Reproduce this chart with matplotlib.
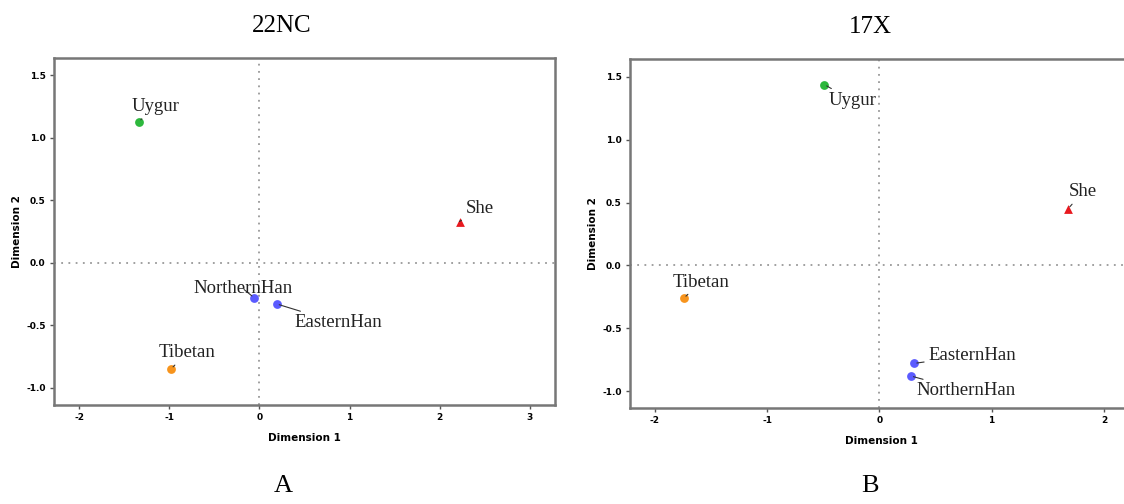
import matplotlib
matplotlib.use("Agg")
import matplotlib.pyplot as plt

# panel A (22NC)
groups_a = ["Uygur", "NorthernHan", "EasternHan", "Tibetan", "She"]
dim1_a = [-1.34, -0.06, 0.19, -0.98, 2.22]
dim2_a = [1.13, -0.28, -0.33, -0.85, 0.33]

# panel B (17X)
groups_b = ["Uygur", "Tibetan", "She", "EasternHan", "NorthernHan"]
dim1_b = [-0.49, -1.74, 1.68, 0.31, 0.28]
dim2_b = [1.44, -0.26, 0.45, -0.78, -0.88]

xticks_a = [-2, -1, 0, 1, 2, 3]
xticks_b = [-2, -1, 0, 1, 2]
yticks = [-1.0, -0.5, 0.0, 0.5, 1.0, 1.5]

colors = {"Uygur": "#2db83d", "NorthernHan": "#5b5bff", "EasternHan": "#5b5bff",
          "Tibetan": "#f7941d", "She": "#e8191f"}
# label offsets in pixels (text centre relative to the point)
offs_a = {"Uygur": (17, 15), "NorthernHan": (-11, 9), "EasternHan": (62, -19),
          "Tibetan": (16, 16), "She": (20, 13)}
offs_b = {"Uygur": (28, -16), "Tibetan": (17, 16), "She": (15, 17),
          "EasternHan": (58, 8), "NorthernHan": (55, -15)}

fig = plt.figure(figsize=(11.24, 5.04), dpi=100)
ax1 = fig.add_axes([0.048, 0.1964, 0.4458, 0.6885])
ax2 = fig.add_axes([0.5605, 0.1905, 0.4466, 0.6924])


def draw(ax, names, xs, ys, offs, xlim, ylim, xticks, title, title_x):
    ax.axhline(0, color="#999999", ls=(0, (1, 3)), lw=1.3, zorder=1)
    ax.axvline(0, color="#999999", ls=(0, (1, 3)), lw=1.3, zorder=1)
    for n, x, y in zip(names, xs, ys):
        mk = "^" if n == "She" else "o"
        ax.scatter(x, y, s=40, marker=mk, color=colors[n], zorder=3, linewidths=0)
        ax.annotate(n, (x, y), xytext=offs[n], textcoords="offset pixels",
                    ha="center", va="center", fontsize=13.5, color="#222222",
                    family="Liberation Serif",
                    arrowprops=dict(arrowstyle="-", color="#333333", lw=0.8,
                                    shrinkA=1, shrinkB=2))
    ax.set_xlim(xlim)
    ax.set_ylim(ylim)
    ax.set_xticks(xticks)
    ax.set_xticklabels([str(t) for t in xticks])
    ax.set_yticks(yticks)
    ax.set_yticklabels(["%.1f" % t for t in yticks])
    ax.tick_params(axis="both", length=3, width=1, color="#555555",
                   labelsize=6.5, pad=3)
    for lab in ax.get_xticklabels() + ax.get_yticklabels():
        lab.set_fontweight("bold")
    for sp in ax.spines.values():
        sp.set_color("#777777")
        sp.set_linewidth(1.8)
    ax.set_xlabel("Dimension 1", fontsize=7.5, fontweight="bold", labelpad=8)
    ax.set_ylabel("Dimension 2", fontsize=7.5, fontweight="bold", labelpad=3)
    ax.set_title(title, fontsize=18, family="Liberation Serif", pad=19, x=title_x)


draw(ax1, groups_a, dim1_a, dim2_a, offs_a, (-2.28, 3.28), (-1.14, 1.64),
     xticks_a, "22NC", 0.455)
draw(ax2, groups_b, dim1_b, dim2_b, offs_b, (-2.22, 2.25), (-1.135, 1.643),
     xticks_b, "17X", 0.478)

fig.text(283 / 1124, 1 - 486 / 504, "A", fontsize=19, family="Liberation Serif",
         ha="center", va="center")
fig.text(870 / 1124, 1 - 486 / 504, "B", fontsize=19, family="Liberation Serif",
         ha="center", va="center")

fig.savefig("out.png", dpi=100)
